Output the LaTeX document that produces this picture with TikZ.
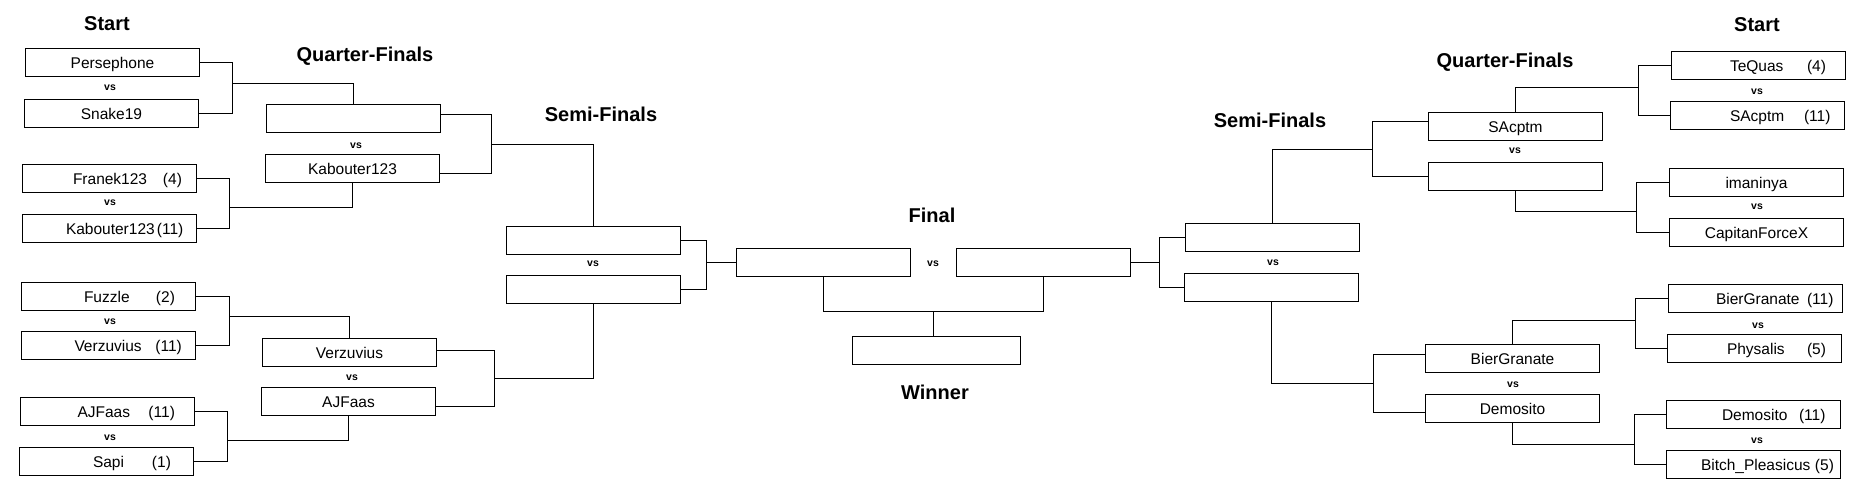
\documentclass[tikz,border=0pt]{standalone}
\usepackage{fontspec}
\setmainfont{Liberation Sans}
\newcommand{\seed}[4]{\rlap{\hspace*{#1pt}#2}\rlap{\hspace*{#3pt}#4}}
\begin{document}
\begin{tikzpicture}[x=1pt,y=-1pt,line width=1pt,
  pbox/.style={draw,rectangle,inner sep=0pt,outer sep=0pt,minimum width=174pt,minimum height=28pt,
    text height=11pt,text depth=0pt,font=\fontsize{15.5}{18}\selectfont},
  head/.style={inner sep=0pt,text height=14.3pt,text depth=0pt,font=\fontsize{20}{24}\selectfont\bfseries},
  vslab/.style={inner sep=0pt,text height=5.5pt,text depth=0pt,font=\fontsize{10.5}{12}\selectfont\bfseries}]
\useasboundingbox (0,0) rectangle (1873,487);
% headings
\node[head] (hStartL) at (107,23.5) {Start};
\node[head] (hQFL) at (365,54.5) {Quarter-Finals};
\node[head] (hSFL) at (601,114.5) {Semi-Finals};
\node[head] (hFinal) at (932,215.5) {Final};
\node[head] (hWin) at (935,392.5) {Winner};
\node[head] (hSFR) at (1270,120.5) {Semi-Finals};
\node[head] (hQFR) at (1505,60) {Quarter-Finals};
\node[head] (hStartR) at (1757,24) {Start};
% left start
\node[pbox] (L1) at (112.5,62.5) {Persephone};
\node[pbox] (L2) at (111.5,113.5) {Snake19};
\node[pbox] (L3) at (109.5,178.5) {\seed{-36.5}{Franek123}{53.5}{(4)}};
\node[pbox] (L4) at (109.5,228.5) {\seed{-43.5}{Kabouter123}{47.5}{(11)}};
\node[pbox] (L5) at (108.5,296.5) {\seed{-24.5}{Fuzzle}{47.5}{(2)}};
\node[pbox] (L6) at (108.5,345.5) {\seed{-34}{Verzuvius}{47}{(11)}};
\node[pbox] (L7) at (107.5,411.5) {\seed{-30}{AJFaas}{41}{(11)}};
\node[pbox] (L8) at (106.5,461.5) {\seed{-13.5}{Sapi}{45.5}{(1)}};
% left quarter-finals
\node[pbox] (Q1) at (353.5,118.5) {};
\node[pbox] (Q2) at (352.5,168.5) {Kabouter123};
\node[pbox] (Q3) at (349.5,352.5) {Verzuvius};
\node[pbox] (Q4) at (348.5,401.5) {AJFaas};
% left semi-finals
\node[pbox] (S1) at (593.5,240.5) {};
\node[pbox] (S2) at (593.5,289.5) {};
% final
\node[pbox] (F1) at (823.5,262.5) {};
\node[pbox] (F2) at (1043.5,262.5) {};
\node[pbox,minimum width=168pt] (W) at (936.5,350.5) {};
% right semi-finals
\node[pbox] (S3) at (1272.5,237.5) {};
\node[pbox] (S4) at (1271.5,287.5) {};
% right quarter-finals
\node[pbox] (Q5) at (1515.5,126.5) {SAcptm};
\node[pbox] (Q6) at (1515.5,176.5) {};
\node[pbox] (Q7) at (1512.5,358.5) {BierGranate};
\node[pbox] (Q8) at (1512.5,408.5) {Demosito};
% right start
\node[pbox] (R1) at (1758.5,65.5) {\seed{-28.5}{TeQuas}{48.5}{(4)}};
\node[pbox] (R2) at (1757.5,115.5) {\seed{-27.5}{SAcptm}{46.5}{(11)}};
\node[pbox] (R3) at (1756.5,182.5) {imaninya};
\node[pbox] (R4) at (1756.5,232.5) {CapitanForceX};
\node[pbox] (R5) at (1755.5,298.5) {\seed{-39.5}{BierGranate}{51.5}{(11)}};
\node[pbox] (R6) at (1754.5,348.5) {\seed{-27.5}{Physalis}{52.5}{(5)}};
\node[pbox] (R7) at (1753.5,414.5) {\seed{-31.5}{Demosito}{45.5}{(11)}};
\node[pbox] (R8) at (1753.5,464.5) {\seed{-52.5}{Bitch\_Pleasicus}{61.5}{(5)}};
% vs labels
\node[vslab] (v1) at (110,88) {vs};
\node[vslab] (v2) at (110,203) {vs};
\node[vslab] (v3) at (110,322) {vs};
\node[vslab] (v4) at (110,438) {vs};
\node[vslab] (v5) at (356,146) {vs};
\node[vslab] (v6) at (352,378) {vs};
\node[vslab] (v7) at (593,264) {vs};
\node[vslab] (v8) at (933,264) {vs};
\node[vslab] (v9) at (1273,263) {vs};
\node[vslab] (v10) at (1515,151) {vs};
\node[vslab] (v11) at (1513,385) {vs};
\node[vslab] (v12) at (1757,92) {vs};
\node[vslab] (v13) at (1757,207) {vs};
\node[vslab] (v14) at (1758,326) {vs};
\node[vslab] (v15) at (1757,441) {vs};
% junctions
\coordinate (jL12) at (232.5,83.5);
\coordinate (jL34) at (229.5,207.5);
\coordinate (jL56) at (229.5,316.5);
\coordinate (jL78) at (227.5,440.5);
\coordinate (jQ12) at (491.5,144.5);
\coordinate (jQ34) at (494.5,378.5);
\coordinate (jS12) at (706.5,262.5);
\coordinate (jF) at (933.5,311.5);
\coordinate (jS34) at (1159.5,262.5);
\coordinate (jQ56) at (1372.5,149.5);
\coordinate (jQ78) at (1373.5,383.5);
\coordinate (jR12) at (1638.5,87.5);
\coordinate (jR34) at (1636.5,211.5);
\coordinate (jR56) at (1635.5,320.5);
\coordinate (jR78) at (1634.5,444.5);
% left connectors
\draw (L1.east) -| (jL12) |- (L2.east);
\draw (jL12) -| (Q1.north);
\draw (L3.east) -| (jL34) |- (L4.east);
\draw (jL34) -| (Q2.south);
\draw (L5.east) -| (jL56) |- (L6.east);
\draw (jL56) -| (Q3.north);
\draw (L7.east) -| (jL78) |- (L8.east);
\draw (jL78) -| (Q4.south);
\draw ([yshift=4pt]Q1.east) -| (jQ12) |- ([yshift=-5pt]Q2.east);
\draw (jQ12) -| (S1.north);
\draw ([yshift=2pt]Q3.east) -| (jQ34) |- ([yshift=-5pt]Q4.east);
\draw (jQ34) -| (S2.south);
\draw (S1.east) -| (jS12) |- (S2.east);
\draw (jS12) -- (F1.west);
% final
\draw (F1.south) |- (jF) -| (F2.south);
\draw (jF) -- (jF |- W.north);
% right connectors
\draw (S3.west) -| (jS34) |- (S4.west);
\draw (jS34) -- (F2.east);
\draw ([yshift=5pt]Q5.west) -| (jQ56) |- (Q6.west);
\draw (jQ56) -| (S3.north);
\draw ([yshift=4pt]Q7.west) -| (jQ78) |- ([yshift=-4pt]Q8.west);
\draw (jQ78) -| (S4.south);
\draw (R1.west) -| (jR12) |- (R2.west);
\draw (jR12) -| (Q5.north);
\draw (R3.west) -| (jR34) |- (R4.west);
\draw (jR34) -| (Q6.south);
\draw (R5.west) -| (jR56) |- (R6.west);
\draw (jR56) -| (Q7.north);
\draw (R7.west) -| (jR78) |- (R8.west);
\draw (jR78) -| (Q8.south);
\end{tikzpicture}
\end{document}
